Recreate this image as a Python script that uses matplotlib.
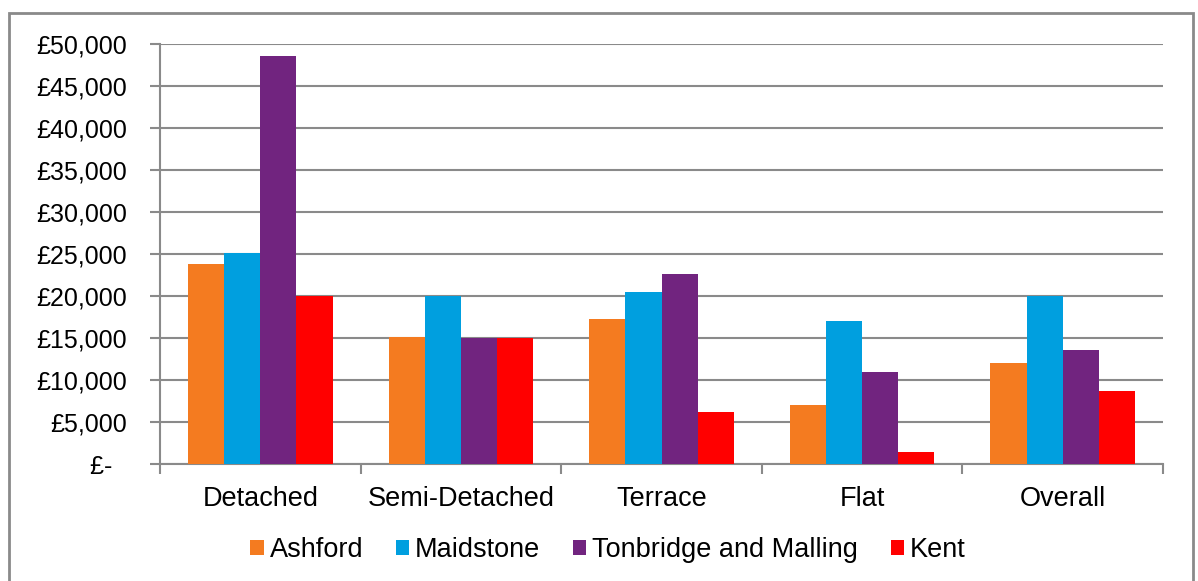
import numpy as np
import matplotlib.pyplot as plt
from matplotlib.patches import Patch, Rectangle
from matplotlib.ticker import FuncFormatter

categorias = ['Detached', 'Semi-Detached', 'Terrace', 'Flat', 'Overall']
series = ['Ashford', 'Maidstone', 'Tonbridge and Malling', 'Kent']
ashford = [23800, 15100, 17300, 7000, 12000]
maidstone = [25100, 20000, 20500, 17000, 20000]
tonbridge = [48600, 15000, 22600, 11000, 13600]
kent = [20000, 15000, 6200, 1400, 8700]
cores = ['#F47B20', '#009FDF', '#71247F', '#FF0000']

plt.rcParams['font.family'] = ['Liberation Sans', 'DejaVu Sans']
plt.rcParams['font.size'] = 18

fig = plt.figure(figsize=(11.98, 5.81), dpi=100)
W, H = 1198, 581
ax = fig.add_axes([160 / W, 1 - 464 / H, 1003 / W, 420 / H])

cinza = '#8a8a8a'
x = np.arange(len(categorias))
largura = 0.18
valores = [ashford, maidstone, tonbridge, kent]
for i, (vals, cor) in enumerate(zip(valores, cores)):
    ax.bar(x + (i - 1.5) * largura, vals, largura, color=cor, zorder=3)

ax.set_xlim(-0.5, len(categorias) - 0.5)
ax.set_ylim(0, 50000)
ax.set_yticks(np.arange(0, 50001, 5000))
ax.yaxis.set_major_formatter(FuncFormatter(lambda v, p: '£-\u2007' if v == 0 else f'£{int(v):,}'))
ax.yaxis.grid(True, color=cinza, linewidth=1.5, zorder=0)

ax.set_xticks(x)
ax.set_xticklabels(categorias, fontsize=19.5)
ax.set_xticks(np.arange(-0.5, len(categorias)), minor=True)
ax.tick_params(axis='x', which='major', length=0, pad=16)
ax.tick_params(axis='x', which='minor', length=7, width=1.5, color=cinza)
ax.tick_params(axis='y', length=7, width=1.5, color=cinza, pad=17)

for lado in ['top', 'right']:
    ax.spines[lado].set_visible(False)
for lado in ['left', 'bottom']:
    ax.spines[lado].set_color(cinza)
    ax.spines[lado].set_linewidth(1.5)

handles = [Patch(facecolor=c, edgecolor='none') for c in cores]
fig.legend(handles, series, loc='center', bbox_to_anchor=(608 / W, 1 - 550 / H),
           ncol=4, frameon=False, fontsize=19.5, handlelength=0.5, handleheight=0.5,
           handletextpad=0.22, columnspacing=1.2)

fig.patches.append(Rectangle((9 / W, -0.01), 1184 / W, 1 - 13 / H + 0.01,
                             transform=fig.transFigure, fill=False,
                             edgecolor=cinza, linewidth=2))

fig.savefig('out.png', dpi=100)
